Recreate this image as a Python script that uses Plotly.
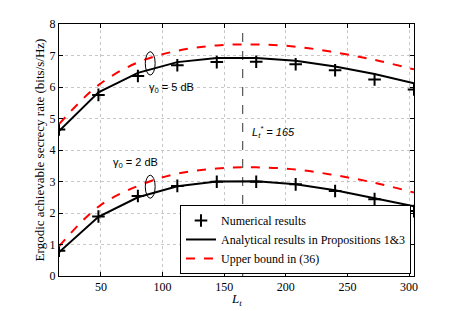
import plotly.graph_objects as go

Lt = [16, 48, 80, 112, 144, 176, 208, 240, 272, 304]

num_5 = [4.65, 5.75, 6.35, 6.69, 6.79, 6.80, 6.72, 6.53, 6.24, 5.92]
ana_5 = [4.60, 5.83, 6.45, 6.79, 6.92, 6.92, 6.83, 6.65, 6.41, 6.12]
ub_5 = [4.82, 6.06, 6.78, 7.15, 7.32, 7.35, 7.28, 7.10, 6.86, 6.56]

num_2 = [0.80, 1.89, 2.54, 2.86, 2.99, 2.99, 2.91, 2.70, 2.44, 2.06]
ana_2 = [0.75, 1.88, 2.50, 2.85, 3.00, 3.01, 2.91, 2.72, 2.47, 2.21]
ub_2 = [0.94, 2.20, 2.86, 3.25, 3.41, 3.45, 3.38, 3.20, 2.96, 2.65]

x_ticks = [50, 100, 150, 200, 250, 300]
y_ticks = [0, 1, 2, 3, 4, 5, 6, 7, 8]
Lt_opt = 165

serif = "Liberation Serif, Times New Roman, serif"
sans = "Liberation Sans, Arial, sans-serif"

fig = go.Figure()

marker = dict(symbol="cross-thin", size=9, line=dict(color="black", width=2), color="black")

fig.add_trace(go.Scatter(x=Lt, y=num_5, mode="markers", marker=marker, name="Numerical results"))
fig.add_trace(go.Scatter(x=Lt, y=ana_5, mode="lines", line=dict(color="black", width=2),
                         name="Analytical results in Propositions 1&3"))
fig.add_trace(go.Scatter(x=Lt, y=ub_5, mode="lines", line=dict(color="red", width=2, dash="dash", shape="spline"),
                         name="Upper bound in (36)"))
fig.add_trace(go.Scatter(x=Lt, y=num_2, mode="markers", marker=marker, showlegend=False))
fig.add_trace(go.Scatter(x=Lt, y=ana_2, mode="lines", line=dict(color="black", width=2), showlegend=False))
fig.add_trace(go.Scatter(x=Lt, y=ub_2, mode="lines", line=dict(color="red", width=2, dash="dash", shape="spline"),
                         showlegend=False))

# optimal Lt line
fig.add_shape(type="line", x0=Lt_opt, x1=Lt_opt, y0=0, y1=8, xref="x", yref="y",
              line=dict(color="#555555", width=1.2, dash="dash"), layer="below")
# ellipses
fig.add_shape(type="circle", x0=86, x1=94, y0=6.38, y1=7.12, xref="x", yref="y",
              line=dict(color="black", width=1))
fig.add_shape(type="circle", x0=86, x1=94, y0=2.47, y1=3.2, xref="x", yref="y",
              line=dict(color="black", width=1))

fig.add_annotation(x=87, y=5.97, xref="x", yref="y", text="γ<sub>0</sub> = 5 dB", showarrow=False,
                   xanchor="left", yanchor="middle", font=dict(family=sans, size=11, color="black"))
fig.add_annotation(x=58, y=3.6, xref="x", yref="y", text="γ<sub>0</sub> = 2 dB", showarrow=False,
                   xanchor="left", yanchor="middle", font=dict(family=sans, size=11, color="black"))
fig.add_annotation(x=171, y=4.57, xref="x", yref="y",
                   text="<i>L<sub>t</sub><sup>*</sup> = 165</i>", showarrow=False,
                   xanchor="left", yanchor="middle", font=dict(family=sans, size=11, color="black"))
# x-axis title
fig.add_annotation(x=160, y=0, xref="x", yref="paper", yshift=-23, text="<i>L<sub>t</sub></i>",
                   showarrow=False, xanchor="center", yanchor="middle",
                   font=dict(family=serif, size=13, color="black"))

axis_common = dict(showline=True, linecolor="black", linewidth=1, mirror="ticks", ticks="inside",
                   ticklen=4, tickcolor="black", showgrid=True, gridcolor="#c8c8c8", griddash="dot",
                   gridwidth=1, zeroline=False, automargin=False,
                   tickfont=dict(family=serif, size=12, color="black"))

fig.update_xaxes(range=[16, 304], tickvals=x_ticks, **axis_common)
fig.update_yaxes(range=[0, 8], tickvals=y_ticks, **axis_common,
                 title=dict(text="Ergodic achievable secrecy rate (bits/s/Hz)",
                            font=dict(family=serif, size=13, color="black"), standoff=2))

fig.update_layout(
    width=457, height=311,
    margin=dict(l=51, r=51, t=16, b=43),
    plot_bgcolor="white", paper_bgcolor="white",
    legend=dict(x=0.9915, y=0.008, xanchor="right", yanchor="bottom", bordercolor="black", borderwidth=1,
                bgcolor="white", font=dict(family=serif, size=12, color="black"),
                tracegroupgap=0, itemwidth=30),
)

fig.write_html("out.html")
